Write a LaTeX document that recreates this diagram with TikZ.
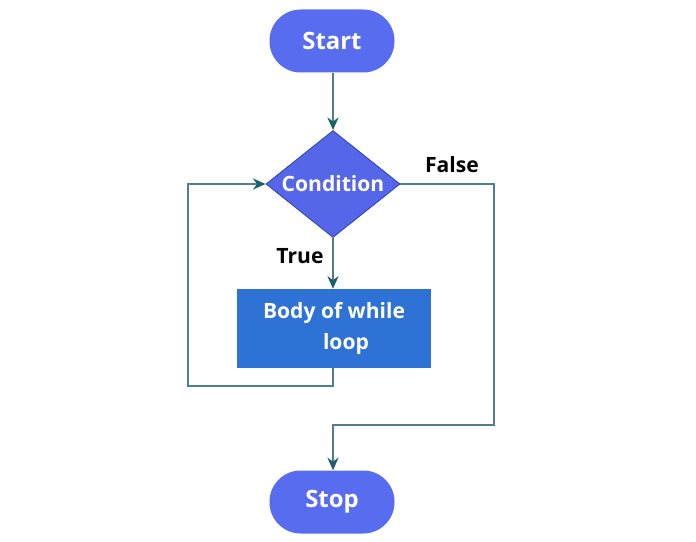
\documentclass[tikz,border=0pt]{standalone}
\usepackage{fontspec}
\setmainfont{Open Sans}
\usepackage{tikz}
\usetikzlibrary{positioning,arrows.meta,shapes.geometric}
\definecolor{pill}{RGB}{88,108,240}
\definecolor{decide}{RGB}{86,102,232}
\definecolor{decideedge}{RGB}{52,66,170}
\definecolor{bodyblue}{RGB}{46,114,214}
\definecolor{flow}{RGB}{80,128,140}
\definecolor{flowtip}{RGB}{28,96,106}

\begin{document}
\begin{tikzpicture}[
		terminal/.style={fill=pill, text=white, rounded corners=0.78cm,
		                 minimum width=3.125cm, minimum height=1.575cm,
		                 font=\fontsize{17}{20}\selectfont\bfseries},
		decision/.style={diamond, aspect=1.25, fill=decide, draw=decideedge,
		                 line width=0.6pt, text=white, minimum width=3.35cm,
		                 minimum height=2.675cm, inner sep=0pt,
		                 font=\fontsize{15}{18}\selectfont\bfseries},
		process/.style={fill=bodyblue, text=white, minimum width=4.85cm,
		                minimum height=1.975cm, align=center,
		                font=\fontsize{15}{22}\selectfont\bfseries},
		flowline/.style={draw=flow, line width=1.3pt,
		                 -{Stealth[length=9pt, width=8pt, color=flowtip]}},
		tag/.style={font=\fontsize{15}{18}\selectfont\bfseries}]
		\useasboundingbox (0,0) rectangle (17.4,13.525);
		\node[terminal] (start) at (8.3, 12.5) {Start};
		\node[decision] (cond) at (8.325, 8.925) {Condition};
		\node[process] (body) at (8.35, 5.3125) {Body of while\\\hspace*{0.6cm}loop};
		\node[terminal] (stop) at (8.3, 0.975) {Stop};
		\node[tag] (true) at (7.5, 7.125) {True};
		\node[tag] (false) at (11.3, 9.4) {False};
		\coordinate (back) at (4.7, 3.875);
		\coordinate (out) at (12.35, 2.9);
		\draw[flowline] (start.south -| cond.north) -- (cond.north);
		\draw[flowline] (cond.south) -- (cond.south |- body.north);
		\draw[flowline] (cond.south |- body.south) |- (back) |- (cond.west);
		\draw[flowline] (cond.east) -| (out) -| (cond.south |- stop.north);
	\end{tikzpicture}
\end{document}
